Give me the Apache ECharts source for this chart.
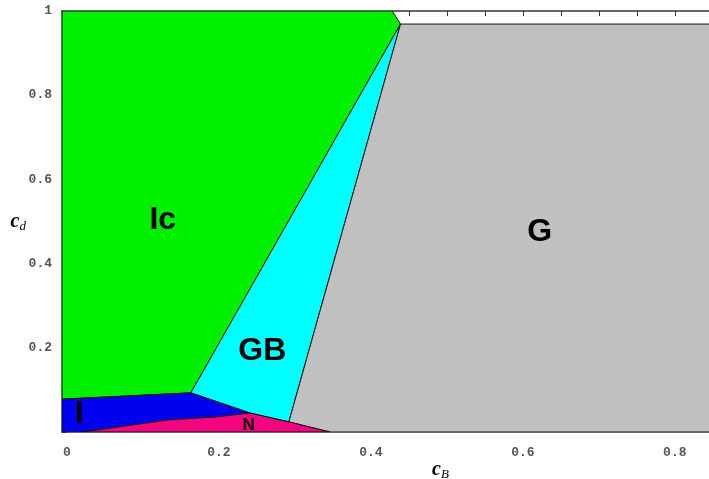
<!DOCTYPE html>
<html>
<head>
<meta charset="utf-8">
<script src="https://cdn.jsdelivr.net/npm/echarts@6/dist/echarts.min.js"></script>
<style>html,body{margin:0;padding:0;background:#fff;}#c{width:709px;height:479px;}</style>
</head>
<body>
<div id="c"></div>
<script>
// ---- data ----
const xRange = [-0.0066, 0.845];
const yRange = [0, 1];
const xTickValues = [0,0.05,0.1,0.15,0.2,0.25,0.3,0.35,0.4,0.45,0.5,0.55,0.6,0.65,0.7,0.75,0.8];
const xTickLabels = [0, 0.2, 0.4, 0.6, 0.8];
const yTickValues = [0,0.05,0.1,0.15,0.2,0.25,0.3,0.35,0.4,0.45,0.5,0.55,0.6,0.65,0.7,0.75,0.8,0.85,0.9,0.95,1];
const yTickLabels = [0.2, 0.4, 0.6, 0.8, 1];

const greenRegion = [[-0.0066,0.078],[0.163,0.093],[0.439,0.969],[0.428,1],[-0.0066,1]];
const cyanRegion  = [[0.163,0.093],[0.241,0.045],[0.292,0.024],[0.439,0.969]];
const grayRegion  = [[0.292,0.024],[0.346,0],[0.9,0],[0.9,0.969],[0.439,0.969]];
const blueRegion  = [[-0.0066,0],[-0.0066,0.078],[0.163,0.093],[0.241,0.045],[0.197,0.036],[0.132,0.0285],[0.021,0]];
const pinkRegion  = [[0.021,0],[0.132,0.0285],[0.197,0.036],[0.241,0.045],[0.292,0.024],[0.346,0]];

const regionNames = ['Ic','G','GB','I','N'];
const regionLabelX = [0.126, 0.622, 0.257, 0.016, 0.239];
const regionLabelY = [0.504, 0.475, 0.192, 0.043, 0.017];

// ---- styles ----
const labelSizes = [32, 32, 32, 32, 17];
const regions = [
  {data: greenRegion, color: '#00f000'},
  {data: cyanRegion,  color: '#00ffff'},
  {data: grayRegion,  color: '#c0c0c0'},
  {data: blueRegion,  color: '#0000f0'},
  {data: pinkRegion,  color: '#f2057f'}
];

const tickFont = {fontFamily: '"Liberation Mono", "DejaVu Sans Mono", monospace', fontWeight: 'bold', fontSize: 13, color: '#555'};
const fmt = v => (v === 0 ? '0' : (v === 1 ? '1' : Number(v).toFixed(1)));

const series = regions.map(r => ({
  type: 'custom',
  clip: true,
  data: r.data,
  renderItem: (params, api) => {
    if (params.dataIndex !== 0) return;
    const pts = r.data.map(p => api.coord(p));
    return {type: 'polygon', shape: {points: pts}, style: {fill: r.color, stroke: '#111', lineWidth: 1}};
  }
}));

series.push({
  type: 'custom',
  data: regionNames.map((n, i) => [regionLabelX[i], regionLabelY[i], i]),
  renderItem: (params, api) => {
    const i = api.value(2);
    const p = api.coord([api.value(0), api.value(1)]);
    return {type: 'text', x: p[0], y: p[1], style: {text: regionNames[i], fill: '#000', font: 'bold ' + labelSizes[i] + 'px "Liberation Sans", Arial, sans-serif', align: 'center', verticalAlign: 'middle'}, z2: 10};
  },
  z: 10
});

const chart = echarts.init(document.getElementById('c'));
chart.setOption({
  animation: false,
  backgroundColor: '#fff',
  grid: {left: 62, right: 0, top: 11, bottom: 47, containLabel: false, outerBoundsMode: 'none'},
  xAxis: [{
    type: 'value', min: xRange[0], max: xRange[1],
    name: '{c|c}{s|B}', nameLocation: 'middle', nameGap: 26, nameMoveOverlap: false,
    nameTextStyle: {padding: [0, 0, 0, 110], rich: {
      c: {fontFamily: '"Liberation Serif", serif', fontStyle: 'italic', fontWeight: 'bold', fontSize: 20, color: '#000'},
      s: {fontFamily: '"Liberation Serif", serif', fontStyle: 'italic', fontSize: 13, color: '#000', padding: [10, 0, 0, 0]}
    }},
    splitLine: {show: false},
    axisLine: {show: true, onZero: false, lineStyle: {color: '#333', width: 1.5}},
    axisTick: {show: true, inside: true, length: 5, customValues: xTickValues, lineStyle: {color: '#333'}},
    axisLabel: Object.assign({show: true, margin: 14, customValues: xTickLabels, formatter: fmt}, tickFont)
  }, {
    type: 'value', position: 'top', min: xRange[0], max: xRange[1],
    splitLine: {show: false},
    axisLine: {show: true, onZero: false, lineStyle: {color: '#333', width: 1.5}},
    axisTick: {show: true, inside: true, length: 5, customValues: xTickValues, lineStyle: {color: '#333'}},
    axisLabel: {show: false}
  }],
  yAxis: [{
    type: 'value', min: yRange[0], max: yRange[1],
    name: '{c|c}{s|d}', nameLocation: 'middle', nameGap: 36, nameRotate: 0, nameMoveOverlap: false,
    nameTextStyle: {rich: {
      c: {fontFamily: '"Liberation Serif", serif', fontStyle: 'italic', fontWeight: 'bold', fontSize: 20, color: '#000'},
      s: {fontFamily: '"Liberation Serif", serif', fontStyle: 'italic', fontSize: 13, color: '#000', padding: [10, 0, 0, 0]}
    }},
    splitLine: {show: false},
    axisLine: {show: true, onZero: false, lineStyle: {color: '#333', width: 1.5}},
    axisTick: {show: true, inside: true, length: 5, customValues: yTickValues, lineStyle: {color: '#333'}},
    axisLabel: Object.assign({show: true, margin: 10, customValues: yTickLabels, formatter: fmt}, tickFont)
  }],
  series: series
});
</script>
</body>
</html>
